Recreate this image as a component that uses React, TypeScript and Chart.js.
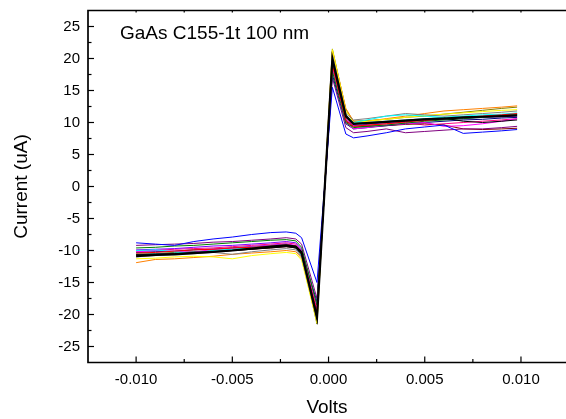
import React, { useEffect, useRef } from 'react';
import { Chart, registerables } from 'chart.js';
Chart.register(...registerables);

// Voltage sample points (V)
const VOLTS = [-0.0100, -0.0090, -0.0080, -0.0070, -0.0060, -0.0050, -0.0040, -0.0030, -0.0022, -0.0017, -0.0014, -0.0006, 0.0002, 0.0009, 0.0013, 0.0020, 0.0030, 0.0040, 0.0050, 0.0060, 0.0070, 0.0080, 0.0090, 0.0098];

// Current sweeps (uA)
const SWEEP_BLACK = [-10.9, -10.7, -10.6, -10.4, -10.2, -10.0, -9.7, -9.4, -9.2, -9.4, -10.3, -20.5, 20.0, 11.0, 9.8, 9.9, 10.1, 10.3, 10.5, 10.6, 10.8, 10.9, 11.0, 11.1];
const SWEEP_BLACK2 = [-10.6, -10.6, -10.5, -10.3, -10.2, -10.0, -9.8, -9.6, -9.4, -9.6, -10.5, -20.0, 19.6, 10.8, 9.8, 9.9, 10.1, 10.3, 10.5, 10.7, 10.2, 10.0, 10.2, 10.4];
const SWEEP_BLUE = [-8.8, -9.0, -9.2, -8.6, -8.2, -7.9, -7.5, -7.2, -7.1, -7.3, -8.0, -15.0, 15.5, 8.2, 7.6, 7.9, 8.4, 9.0, 9.3, 9.6, 8.3, 8.5, 8.7, 8.9];
const SWEEP_OLIVE = [-10.6, -10.5, -10.3, -10.2, -10.0, -9.8, -9.6, -9.4, -9.2, -9.5, -10.6, -21.5, 21.5, 12.0, 10.2, 10.3, 10.5, 10.8, 11.0, 11.3, 11.6, 11.9, 12.2, 12.4];
const SWEEP_ORANGE = [-11.9, -11.4, -11.3, -11.1, -10.9, -10.6, -10.4, -10.2, -10.0, -10.2, -11.2, -21.0, 21.2, 12.2, 10.2, 10.2, 10.6, 11.0, 11.4, 11.8, 12.0, 12.2, 12.4, 12.6];
const SWEEP_YELLOW = [-11.3, -11.2, -11.0, -10.9, -11.0, -11.3, -10.8, -10.5, -10.3, -10.5, -11.5, -21.3, 21.4, 11.8, 10.0, 10.2, 10.5, 10.8, 11.1, 11.3, 11.5, 11.7, 11.9, 12.0];
const SWEEP_MAGENTA = [-10.2, -10.0, -10.1, -10.3, -9.8, -9.7, -9.4, -9.2, -9.0, -9.2, -10.0, -19.0, 18.5, 10.0, 9.0, 9.2, 9.6, 9.8, 10.0, 9.4, 9.5, 9.8, 10.2, 10.6];
const SWEEP_PURPLE = [-9.2, -9.1, -9.0, -8.9, -8.7, -8.6, -8.4, -8.2, -8.0, -8.2, -9.0, -17.5, 17.0, 9.2, 8.4, 8.6, 9.0, 8.4, 8.6, 8.8, 9.0, 9.0, 9.2, 9.4];
const SWEEP_RED = [-10.4, -10.3, -10.1, -9.9, -9.8, -9.6, -9.5, -9.3, -9.1, -9.3, -10.4, -19.5, 19.0, 10.3, 9.4, 9.6, 9.8, 10.1, 10.3, 10.6, 10.8, 11.0, 11.2, 11.4];
const SWEEP_GREEN = [-9.6, -9.5, -9.3, -9.2, -9.0, -8.8, -8.6, -8.4, -8.3, -8.5, -9.5, -18.5, 18.0, 10.0, 9.2, 9.4, 9.6, 9.9, 10.2, 10.4, 10.6, 10.8, 11.0, 11.2];
const SWEEP_CYAN = [-10.0, -9.9, -10.2, -10.4, -10.0, -9.8, -9.5, -9.3, -9.1, -9.4, -10.4, -19.8, 19.5, 11.0, 10.0, 10.4, 11.0, 11.2, 11.0, 10.8, 11.0, 11.2, 11.3, 11.5];
const SWEEP_DARKCYAN = [-10.7, -10.5, -10.4, -10.2, -10.1, -9.9, -9.7, -9.5, -9.3, -9.6, -10.8, -20.2, 19.8, 11.2, 9.9, 10.0, 10.2, 10.4, 10.6, 10.8, 10.9, 11.0, 11.2, 11.3];
const SWEEP_NAVY = [-10.3, -10.2, -10.1, -9.9, -9.8, -9.6, -9.4, -9.2, -9.0, -9.3, -10.2, -18.0, 17.5, 9.8, 9.0, 9.2, 9.5, 9.8, 10.0, 10.2, 10.4, 10.5, 10.7, 10.8];
const SWEEP_WINE = [-10.8, -10.6, -10.5, -10.4, -10.2, -10.0, -9.8, -9.6, -9.4, -9.6, -10.6, -19.0, 18.8, 10.2, 9.3, 9.4, 9.5, 9.7, 9.8, 9.6, 9.0, 8.9, 9.0, 9.1];
const SWEEP_PINK = [-10.1, -10.0, -9.8, -9.7, -9.6, -9.4, -9.2, -9.0, -8.8, -9.0, -10.0, -19.3, 19.2, 10.6, 9.6, 9.5, 9.8, 10.0, 9.6, 9.8, 10.0, 10.2, 10.4, 10.6];
const SWEEP_GRAY = [-11.0, -10.8, -10.6, -10.5, -10.3, -10.6, -10.2, -9.9, -9.7, -9.9, -11.0, -20.8, 20.5, 11.4, 10.4, 10.6, 11.0, 11.4, 11.2, 11.0, 11.2, 11.4, 11.6, 11.8];
const SWEEP_VIOLET = [-9.9, -9.8, -9.7, -9.5, -9.3, -9.2, -9.0, -8.8, -8.6, -8.8, -9.8, -18.8, 18.4, 10.4, 9.5, 9.7, 10.0, 10.2, 10.4, 10.5, 10.6, 10.8, 10.9, 11.0];

// Axis ticks
const X_MAJOR = [-0.010, -0.005, 0.000, 0.005, 0.010];
const X_MINOR = [-0.0075, -0.0025, 0.0025, 0.0075];
const Y_MAJOR = [-25, -20, -15, -10, -5, 0, 5, 10, 15, 20, 25];
const Y_MINOR = [-22.5, -17.5, -12.5, -7.5, -2.5, 2.5, 7.5, 12.5, 17.5, 22.5];

const ANNOTATION = 'GaAs C155-1t 100 nm';
const FONT = '"Liberation Sans", Arial, sans-serif';

const SERIES: [string, number[], string, number][] = [
  ['black', SWEEP_BLACK, '#000000', 2.2],
  ['black2', SWEEP_BLACK2, '#000000', 1],
  ['blue', SWEEP_BLUE, '#0000FF', 1],
  ['red', SWEEP_RED, '#FF0000', 1],
  ['green', SWEEP_GREEN, '#008000', 1],
  ['cyan', SWEEP_CYAN, '#00FFFF', 1],
  ['magenta', SWEEP_MAGENTA, '#FF00FF', 1],
  ['navy', SWEEP_NAVY, '#000080', 1],
  ['purple', SWEEP_PURPLE, '#800080', 1],
  ['wine', SWEEP_WINE, '#800000', 1],
  ['darkcyan', SWEEP_DARKCYAN, '#008080', 1],
  ['violet', SWEEP_VIOLET, '#8000FF', 1],
  ['pink', SWEEP_PINK, '#FF0080', 1],
  ['gray', SWEEP_GRAY, '#808080', 1],
  ['yellow', SWEEP_YELLOW, '#FFFF00', 1],
  ['orange', SWEEP_ORANGE, '#FF8000', 1],
  ['olive', SWEEP_OLIVE, '#808000', 1],
];

const framePlugin = {
  id: 'frame',
  afterDatasetsDraw(chart: any) {
    const { ctx, chartArea: a, scales } = chart;
    const x = scales.x, y = scales.y;
    ctx.save();
    ctx.strokeStyle = '#000';
    ctx.lineWidth = 1.7;
    ctx.beginPath();
    ctx.moveTo(a.right + 5, a.top);
    ctx.lineTo(a.left, a.top);
    ctx.lineTo(a.left, a.bottom);
    ctx.lineTo(a.right + 5, a.bottom);
    ctx.stroke();
    ctx.lineWidth = 1.2;
    const seg = (x1: number, y1: number, x2: number, y2: number) => {
      ctx.beginPath(); ctx.moveTo(x1, y1); ctx.lineTo(x2, y2); ctx.stroke();
    };
    X_MAJOR.forEach(v => { const p = x.getPixelForValue(v); seg(p, a.bottom, p, a.bottom - 6); seg(p, a.top, p, a.top + 2); });
    X_MINOR.forEach(v => { const p = x.getPixelForValue(v); seg(p, a.bottom, p, a.bottom - 3.5); seg(p, a.top, p, a.top + 2); });
    Y_MAJOR.forEach(v => { const p = y.getPixelForValue(v); seg(a.left, p, a.left + 6, p); });
    Y_MINOR.forEach(v => { const p = y.getPixelForValue(v); seg(a.left, p, a.left + 3.5, p); });
    ctx.fillStyle = '#000';
    ctx.font = '19px ' + FONT;
    ctx.textAlign = 'left';
    ctx.textBaseline = 'alphabetic';
    ctx.fillText(ANNOTATION, a.left + 32, a.top + 28);
    ctx.restore();
  },
};

export default function App() {
  const ref = useRef<HTMLCanvasElement | null>(null);
  useEffect(() => {
    if (!ref.current) return;
    const chart = new Chart(ref.current, {
      type: 'line',
      data: {
        datasets: SERIES.map(([label, vals, color, w]) => ({
          label,
          data: VOLTS.map((v, i) => ({ x: v, y: vals[i] })),
          borderColor: color,
          backgroundColor: color,
          borderWidth: w,
          pointRadius: 0,
          tension: 0,
          fill: false,
        })),
      },
      options: {
        animation: false,
        responsive: false,
        devicePixelRatio: 1,
        layout: { padding: { top: 10.5, right: 0, left: 0, bottom: 0 } },
        plugins: { legend: { display: false }, tooltip: { enabled: false } },
        scales: {
          x: {
            type: 'linear',
            min: -0.0125,
            max: 0.01234,
            grid: { display: false, drawTicks: false },
            border: { display: false },
            afterBuildTicks: (s: any) => { s.ticks = X_MAJOR.map(v => ({ value: v })); },
            afterFit: (s: any) => { s.height = 56.5; s.paddingLeft = 0; s.paddingRight = 0; },
            ticks: {
              font: { family: FONT, size: 15 },
              color: '#000',
              padding: 8,
              maxRotation: 0,
              callback: (v: any) => Number(v).toFixed(3),
            },
            title: { display: true, text: 'Volts', font: { family: FONT, size: 19 }, color: '#000', padding: { top: 0, bottom: 0 } },
          },
          y: {
            type: 'linear',
            min: -27.5,
            max: 27.5,
            grid: { display: false, drawTicks: false },
            border: { display: false },
            afterBuildTicks: (s: any) => { s.ticks = Y_MAJOR.map(v => ({ value: v })); },
            afterFit: (s: any) => { s.width = 88; s.paddingTop = 0; s.paddingBottom = 0; },
            ticks: {
              font: { family: FONT, size: 15 },
              color: '#000',
              padding: 8,
              callback: (v: any) => String(v),
            },
            title: { display: true, text: 'Current (uA)', font: { family: FONT, size: 19 }, color: '#000', padding: { top: 10.5, bottom: 0 } },
          },
        },
      },
      plugins: [framePlugin],
    } as any);
    return () => chart.destroy();
  }, []);
  return (
    <div style={{ position: 'fixed', left: 0, top: 0, width: 566, height: 419, background: '#fff' }}>
      <canvas ref={ref} width={566} height={419} />
    </div>
  );
}
